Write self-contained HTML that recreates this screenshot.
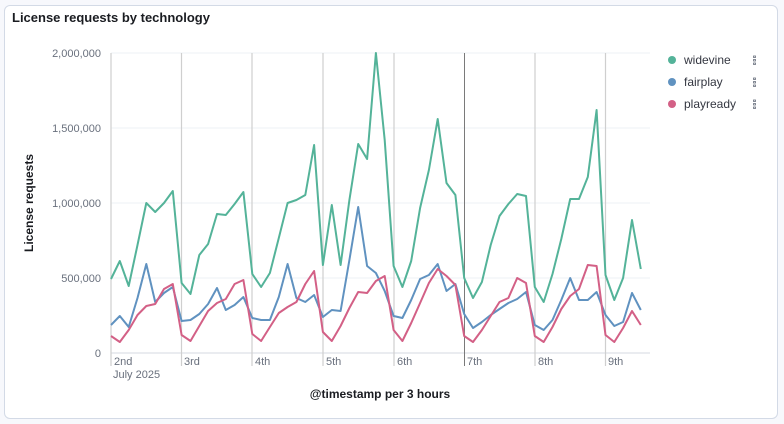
<!DOCTYPE html>
<html><head><meta charset="utf-8"><style>
html,body{margin:0;padding:0;background:#f7f8fc;width:784px;height:424px;overflow:hidden;font-family:"Liberation Sans",sans-serif}
.card{position:absolute;left:4px;top:5px;width:772px;height:412px;background:#fff;border:1px solid #d3dae6;border-radius:6px}
</style></head><body>
<div class="card"></div>
<svg width="784" height="424" style="position:absolute;left:0;top:0" font-family="Liberation Sans, sans-serif">
<text x="12" y="22" font-size="13" font-weight="bold" fill="#1a1c21">License requests by technology</text>
<g stroke="#edf0f5" stroke-width="1">
<line x1="111" x2="650" y1="53" y2="53"/><line x1="111" x2="650" y1="128" y2="128"/>
<line x1="111" x2="650" y1="203" y2="203"/><line x1="111" x2="650" y1="278" y2="278"/>
</g>
<line x1="111" x2="650" y1="353" y2="353" stroke="#e3e6ec" stroke-width="1.5"/>
<g stroke="#cfcfcf" stroke-width="1.2">
<line x1="111" x2="111" y1="53" y2="366"/><line x1="181.5" x2="181.5" y1="53" y2="366"/>
<line x1="252" x2="252" y1="53" y2="366"/><line x1="323" x2="323" y1="53" y2="366"/>
<line x1="394" x2="394" y1="53" y2="366"/><line x1="535" x2="535" y1="53" y2="366"/>
<line x1="605.5" x2="605.5" y1="53" y2="366"/>
</g>
<line x1="464.5" x2="464.5" y1="53" y2="366" stroke="#7a7a7a" stroke-width="1"/>
<g font-size="11" fill="#69707d" text-anchor="end">
<text x="101" y="57">2,000,000</text><text x="101" y="132">1,500,000</text>
<text x="101" y="207">1,000,000</text><text x="101" y="282">500,000</text><text x="101" y="357">0</text>
</g>
<g font-size="11" fill="#69707d">
<text x="114" y="365">2nd</text><text x="184" y="365">3rd</text><text x="255" y="365">4th</text>
<text x="326" y="365">5th</text><text x="397" y="365">6th</text><text x="467" y="365">7th</text>
<text x="538" y="365">8th</text><text x="608" y="365">9th</text>
<text x="113" y="378">July 2025</text>
</g>
<text transform="translate(33,203) rotate(-90)" text-anchor="middle" font-size="12" font-weight="bold" fill="#1a1c21">License requests</text>
<text x="380" y="398" text-anchor="middle" font-size="12" font-weight="bold" fill="#1a1c21">@timestamp per 3 hours</text>
<g id="lines" fill="none" stroke-width="2" stroke-linejoin="round"></g>
<circle cx="672" cy="60" r="4" fill="#54b399"/><circle cx="672" cy="82" r="4" fill="#6092c0"/><circle cx="672" cy="104" r="4" fill="#d36086"/>
<g font-size="12" fill="#343741">
<text x="684" y="64">widevine</text><text x="684" y="86">fairplay</text><text x="684" y="108">playready</text>
</g>
<g fill="none" stroke="#69707d" stroke-width="0.8">
<rect x="753.5" y="56" width="2" height="1.5"/><rect x="753.5" y="59.5" width="2" height="1.5"/><rect x="753.5" y="63" width="2" height="1.5"/>
<rect x="753.5" y="78" width="2" height="1.5"/><rect x="753.5" y="81.5" width="2" height="1.5"/><rect x="753.5" y="85" width="2" height="1.5"/>
<rect x="753.5" y="100" width="2" height="1.5"/><rect x="753.5" y="103.5" width="2" height="1.5"/><rect x="753.5" y="107" width="2" height="1.5"/>
</g>
</svg>
<script>
var wv=[279,261,286,245,203,212,203,191,283,294,255,244,214,215,204,192,274,287,273,238,203,200,195,145,265,205,265,200,144,159,53,140,266,287,261,208,170,119,183,195,278,298,282,245,216,204,194,196,287,302,274,239,199,199,177,110,275,300,278,220,269];
var fp=[325,316,327,298,264,302,293,287,321,320,314,304,288,310,305,297,318,320,320,297,264,298,302,295,317,310,311,260,207,266,273,291,316,318,300,279,275,264,291,284,314,328,322,315,309,303,299,292,325,330,320,300,278,300,300,292,315,326,322,293,310];
var pr=[336,342,330,315,306,304,289,284,335,341,326,311,303,299,284,280,334,341,327,313,307,302,284,271,332,341,326,308,292,293,281,276,330,341,323,303,283,269,276,285,336,342,330,316,302,298,278,283,336,342,327,309,296,289,265,266,335,342,328,311,325];
var g=document.getElementById('lines');
[[wv,'#54b399'],[fp,'#6092c0'],[pr,'#d36086']].forEach(function(s){
 var p=s[0].map(function(y,i){return (111+i*8.83).toFixed(1)+','+y}).join(' ');
 var e=document.createElementNS('http://www.w3.org/2000/svg','polyline');
 e.setAttribute('points',p);e.setAttribute('stroke',s[1]);g.appendChild(e);
});
</script>
</body></html>
